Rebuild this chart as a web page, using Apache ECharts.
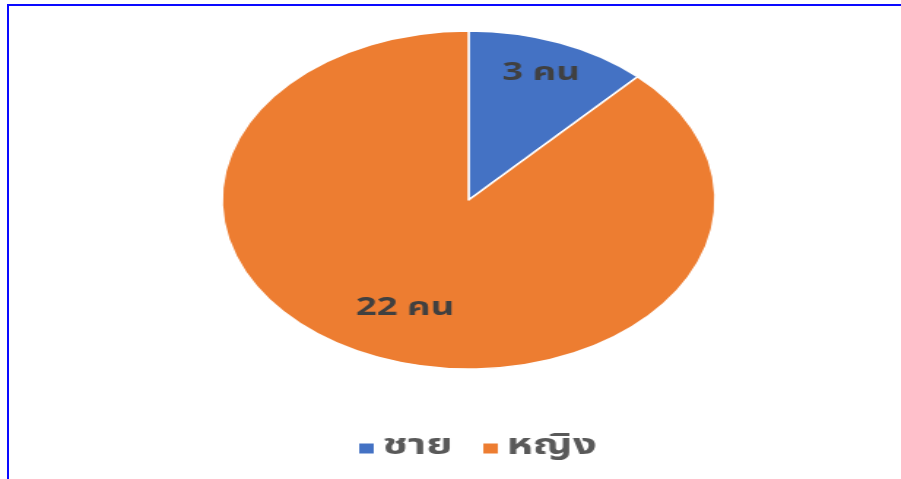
<!DOCTYPE html>
<html>
<head>
<meta charset="utf-8">
<script src="https://cdn.jsdelivr.net/npm/echarts@6/dist/echarts.min.js"></script>
<style>
html,body{margin:0;padding:0;background:#fff;overflow:hidden;}
#frame{position:absolute;left:7px;top:4px;width:1000px;height:600px;border-left:2px solid #0a0aff;border-top:2px solid #0a0aff;}
#chart{position:absolute;left:0;top:0;width:617px;height:479px;transform:scaleX(1.46);transform-origin:0 0;}
</style>
</head>
<body>
<div id="frame"></div>
<div id="chart"></div>
<script>
const categories = ['ชาย', 'หญิง'];
const values = [3, 22];
const labels = ['3 คน', '22 คน'];
const colors = ['#4472C4', '#ED7D31'];

const font = '"Noto Sans Thai", "Leelawadee UI", Tahoma, "Noto Sans", sans-serif';
const chart = echarts.init(document.getElementById('chart'));
const center = [321, 200];
const R = 169;
const baseData = categories.map((c, i) => ({ name: c, value: values[i], itemStyle: { color: colors[i] } }));

function labelSeries(idx, r0) {
  return {
    type: 'pie', center: center, radius: [r0, R], startAngle: 90, clockwise: true,
    silent: true, legendHoverLink: false, animation: false,
    itemStyle: { color: 'rgba(0,0,0,0)', borderWidth: 0 },
    emphasis: { disabled: true },
    labelLine: { show: false },
    data: categories.map((c, i) => ({
      name: c, value: values[i],
      itemStyle: { color: 'rgba(0,0,0,0)' },
      label: {
        show: i === idx, position: 'inside', formatter: labels[i],
        color: '#404040', fontWeight: 'bold', fontSize: 25, fontFamily: font
      }
    }))
  };
}

chart.setOption({
  animation: false,
  color: colors,
  legend: {
    bottom: 11, left: 239, icon: 'rect', itemWidth: 12, itemHeight: 12, itemGap: 19,
    textStyle: { color: '#595959', fontSize: 29, fontFamily: font, fontWeight: 'bold' },
    data: categories
  },
  series: [
    {
      type: 'pie', center: center, radius: R, startAngle: 90, clockwise: true,
      itemStyle: { borderColor: '#ffffff', borderWidth: 1.5 },
      label: { show: false }, labelLine: { show: false },
      data: baseData
    },
    labelSeries(0, 94),
    labelSeries(1, 62)
  ]
});
</script>
</body>
</html>
